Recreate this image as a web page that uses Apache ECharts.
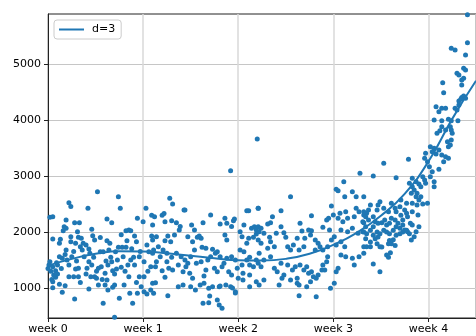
<!DOCTYPE html>
<html>
<head>
<meta charset="utf-8">
<script src="https://cdn.jsdelivr.net/npm/echarts@6/dist/echarts.min.js"></script>
<style>
  html, body { margin: 0; padding: 0; background: #fff; }
  #chart { width: 476px; height: 336px; }
</style>
</head>
<body>
<div id="chart"></div>
<script>
const weekLabels = ["week 0", "week 1", "week 2", "week 3", "week 4"];
const yTicks = [1000, 2000, 3000, 4000, 5000];

// scatter, week 0 - 1.1
const pointsWeek0 = [
  [0.02,2262],[0.05,2274],[0.22,2524],[0.24,2453],[0.52,2720],[0.74,2631],[0.76,2423],[0.42,2423],[1.03,2423],[0.94,2244],
  [1.00,2185],[0.62,2232],[0.67,2167],[0.28,2167],[0.33,2167],[0.19,2214],[0.17,2095],[0.19,2066],[0.16,2024],[0.05,1875],
  [0.13,1869],[0.24,1917],[0.24,1827],[0.31,2006],[0.32,1905],[0.29,1798],[0.35,1887],[0.37,1798],[0.34,1738],[0.40,1768],
  [0.43,1697],[0.46,2048],[0.47,1935],[0.49,1857],[0.62,1845],[0.65,1798],[0.55,1649],[0.58,1649],[0.71,1649],[0.74,1726],
  [0.78,1726],[0.82,1726],[0.82,2024],[0.85,2036],[0.87,2024],[0.83,1845],[0.91,1929],[0.93,1827],[1.10,2125],[1.10,1857],
  [1.04,1768],[1.06,1649],[1.10,1619],[0.02,1470],[0.01,1411],[0.05,1381],[0.08,1310],[0.10,1250],[0.08,1190],[0.05,1113],
  [0.12,1065],[0.18,1042],[0.15,1530],[0.20,1500],[0.22,1411],[0.25,1560],[0.29,1339],[0.32,1351],[0.22,1202],[0.27,1202],
  [0.32,1202],[0.43,1470],[0.41,1351],[0.46,1411],[0.45,1202],[0.53,1351],[0.56,1381],[0.49,1202],[0.51,1173],[0.53,1054],
  [0.62,1143],[0.60,1054],[0.70,1054],[0.63,964],[0.68,1012],[0.43,982],[0.28,804],[0.58,726],[0.75,815],[0.89,726],
  [0.80,1054],[0.86,905],[0.94,905],[0.98,1024],[1.01,935],[1.04,893],[1.08,964],[1.10,1083],[1.08,1381],[1.01,1202],
  [0.96,1202],[0.91,1411],[0.84,1411],[0.77,1369],[0.72,1339],[0.67,1470],[0.68,1310],[0.63,1411],[0.60,1262],[0.70,476],
  [0.15,923],[0.12,1560],[0.36,1679],[0.19,1679],[0.79,1560],[0.87,1500],[0.96,1560],[1.01,1470],[0.12,1798],[0.10,1411],
  [0.03,1300],[0.06,1230],[0.09,1450],[0.14,1350],[0.18,1600],[0.27,1650],[0.30,1480],[0.38,1560],[0.40,1250],[0.48,1550],
  [0.51,1300],[0.57,1150],[0.61,1480],[0.66,1550],[0.70,1250],[0.73,1500],[0.81,1300],[0.85,1200],[0.90,1550],[0.93,1100],
  [0.97,1650],[1.05,1300],[0.00,1350],[0.04,1150],[0.34,1100],[0.55,1900],[0.77,1950],[0.44,1620],[0.64,1680],[0.88,1700],
  [0.05,1005]
];

// scatter, week 1.1 - 2.2
const pointsWeek1 = [
  [1.92,3095],[1.28,2601],[1.31,2500],[1.43,2393],[1.44,2393],[1.71,2304],[1.09,2300],[1.12,2274],[1.20,2300],[1.22,2330],
  [1.23,2185],[1.30,2200],[1.35,2167],[1.39,2100],[1.38,2036],[1.51,2125],[1.63,2167],[1.81,2143],[1.95,2200],[1.96,2230],
  [1.93,2100],[2.06,2125],[2.09,2381],[2.11,2381],[2.21,2423],[2.14,2066],[2.17,2095],[2.19,2036],[1.09,1930],[1.14,1917],
  [1.26,1930],[1.33,1947],[1.29,1827],[1.23,1845],[1.47,1917],[1.52,1827],[1.57,1905],[1.61,1887],[1.62,1726],[1.66,1708],
  [1.73,1690],[1.78,1649],[1.86,1947],[1.88,1857],[2.02,2006],[2.04,1917],[2.11,1887],[2.16,1905],[2.19,1964],[2.02,1679],
  [2.06,1649],[2.12,1548],[2.19,1500],[1.11,1679],[1.16,1738],[1.21,1679],[1.25,1619],[1.18,1560],[1.14,1470],[1.25,1470],
  [1.30,1548],[1.35,1619],[1.40,1560],[1.44,1500],[1.47,1440],[1.50,1560],[1.54,1679],[1.56,1440],[1.61,1470],[1.68,1500],
  [1.71,1560],[1.76,1619],[1.81,1560],[1.85,1440],[1.88,1530],[1.93,1560],[1.97,1500],[1.99,1351],[2.04,1411],[2.09,1500],
  [2.12,1411],[2.16,1381],[2.21,1440],[1.13,1381],[1.20,1310],[1.27,1351],[1.23,1190],[1.31,1321],[1.37,1411],[1.42,1292],
  [1.45,1381],[1.49,1262],[1.52,1173],[1.64,1214],[1.66,1321],[1.75,1351],[1.78,1292],[1.83,1381],[1.90,1292],[1.93,1232],
  [2.00,1173],[2.05,1262],[2.12,1232],[2.19,1113],[1.13,1095],[1.26,863],[1.37,1024],[1.42,1054],[1.50,1024],[1.55,964],
  [1.60,1054],[1.64,1083],[1.69,994],[1.73,1024],[1.81,1036],[1.87,1054],[1.92,1024],[1.97,935],[1.63,726],[1.69,738],
  [1.78,786],[1.80,696],[1.83,637],[1.70,857],[1.80,1024],[1.11,905],[2.05,1143],[2.12,1024],[2.09,1798],[1.54,2036],
  [1.59,1929],[1.86,2244],[1.88,2155],[1.94,1000],[1.97,911],[2.20,3661]
];

// scatter, week 2.2 - 3.3
const pointsWeek2 = [
  [3.28,3048],[2.55,2631],[3.11,2899],[3.03,2762],[3.05,2738],[3.20,2720],[3.24,2631],[3.12,2631],[3.32,2631],[2.45,2381],
  [2.77,2292],[2.98,2464],[2.36,2274],[2.34,2167],[2.31,2143],[2.21,2423],[2.45,2095],[2.40,1976],[2.65,2155],[2.67,2018],
  [2.74,2036],[2.77,2024],[2.93,2214],[2.95,2244],[3.00,2304],[3.07,2334],[3.13,2363],[3.24,2423],[3.27,2363],[3.05,2244],
  [3.10,2185],[3.15,2244],[3.22,2274],[3.31,2185],[3.32,2304],[2.89,2083],[2.96,2036],[3.08,2036],[3.15,2006],[3.20,2066],
  [3.26,1976],[3.31,2006],[2.22,2006],[2.27,1976],[2.21,1857],[2.24,1798],[2.33,1905],[2.34,1827],[2.38,1738],[2.31,1708],
  [2.48,1988],[2.50,1905],[2.52,1738],[2.55,1679],[2.62,1887],[2.58,1768],[2.64,1679],[2.69,1738],[2.70,1887],[2.76,1947],
  [2.81,1857],[2.84,1798],[2.81,1679],[2.86,1738],[2.89,1679],[2.94,1738],[2.98,1857],[3.01,1917],[3.03,1768],[3.08,1827],
  [3.12,1738],[3.08,1589],[3.13,1560],[3.20,1530],[3.27,1560],[3.32,1619],[3.22,1411],[3.05,1351],[3.03,1292],[2.94,1560],
  [2.93,1470],[2.89,1411],[2.22,1619],[2.27,1500],[2.24,1381],[2.34,1560],[2.38,1351],[2.41,1292],[2.45,1440],[2.48,1232],
  [2.52,1411],[2.57,1321],[2.60,1381],[2.62,1173],[2.65,1411],[2.69,1321],[2.72,1381],[2.74,1262],[2.77,1292],[2.79,1202],
  [2.82,1173],[2.84,1232],[2.88,1321],[2.91,1321],[2.27,1143],[2.22,1054],[2.43,1054],[2.46,1173],[2.55,1143],[2.62,1083],
  [2.64,1054],[2.72,1024],[2.76,1113],[2.64,863],[2.82,845],[2.97,994],[3.01,1083],[2.21,2095],[2.24,2066]
];

// scatter, week 3.3 - 4.4
const pointsWeek3 = [
  [4.41,5880],[4.41,5381],[4.24,5280],[4.28,5250],[4.39,5161],[4.37,4923],[4.39,4893],[4.30,4834],[4.32,4804],[4.35,4715],
  [4.37,4744],[4.15,4667],[4.16,4488],[4.35,4625],[4.35,4400],[4.37,4430],[4.32,4340],[4.34,4370],[4.39,4390],[4.08,4238],
  [4.14,4209],[4.11,4149],[4.18,4209],[4.28,4209],[4.30,4179],[4.32,4268],[4.06,4000],[4.14,3988],[4.21,4012],[4.24,3988],
  [4.31,3988],[4.14,3881],[4.18,3822],[4.23,3881],[4.24,3822],[4.09,3762],[4.12,3810],[4.25,3762],[4.24,3643],[4.20,3613],
  [4.23,3554],[4.21,3524],[4.02,3524],[4.06,3494],[4.04,3435],[4.08,3393],[4.11,3464],[4.14,3375],[4.18,3345],[4.21,3315],
  [4.16,3256],[3.97,3405],[3.96,3316],[3.99,3256],[4.11,3119],[4.01,3167],[4.04,3077],[4.02,2988],[4.06,2899],[4.06,2810],
  [3.94,2988],[3.96,2929],[3.97,2870],[3.92,2810],[3.99,2512],[3.79,3298],[3.53,3226],[3.42,3000],[3.66,2970],[3.83,2958],
  [3.87,2899],[3.90,2857],[3.80,2870],[3.83,2810],[3.85,2750],[3.88,2690],[3.92,2631],[3.90,2571],[3.82,2690],[3.87,2631],
  [3.83,2512],[3.88,2482],[3.94,2500],[3.77,2512],[3.71,2571],[3.70,2452],[3.75,2393],[3.83,2363],[3.89,2304],[3.66,2363],
  [3.71,2300],[3.77,2333],[3.78,2274],[3.73,2214],[3.68,2155],[3.61,2512],[3.65,2423],[3.58,2363],[3.53,2423],[3.49,2541],
  [3.47,2482],[3.46,2393],[3.39,2482],[3.37,2393],[3.35,2333],[3.32,2363],[3.34,2274],[3.37,2214],[3.42,2274],[3.44,2185],
  [3.42,2095],[3.47,2155],[3.51,2167],[3.54,2214],[3.56,2125],[3.59,2155],[3.61,2244],[3.65,2214],[3.66,2095],[3.70,2066],
  [3.73,2125],[3.75,2036],[3.78,2006],[3.81,2155],[3.83,2125],[3.87,2006],[3.82,1857],[3.85,1917],[3.90,2095],[3.32,2000],
  [3.35,1970],[3.39,2030],[3.42,1940],[3.46,2000],[3.49,1970],[3.53,2030],[3.56,2000],[3.59,1970],[3.63,2030],[3.66,1940],
  [3.70,1970],[3.73,2000],[3.77,2030],[3.80,1970],[3.34,1880],[3.39,1820],[3.44,1880],[3.47,1910],[3.46,1790],[3.51,1730],
  [3.58,1790],[3.63,1860],[3.65,1760],[3.32,1738],[3.35,1738],[3.39,1738],[3.49,1738],[3.59,1850],[3.61,1790],[3.56,1589],
  [3.58,1548],[3.60,1631],[3.42,1429],[3.49,1292],[3.32,2167],[3.34,2095]
];

// degree 3 fit
const fitWeeks  = [0, 0.25, 0.5, 0.75, 1, 1.25, 1.5, 1.75, 2, 2.25, 2.5, 2.75, 3, 3.25, 3.5, 3.75, 4, 4.25, 4.5];
const fitValues = [1400, 1520, 1610, 1655, 1650, 1620, 1575, 1530, 1495, 1490, 1520, 1610, 1770, 1990, 2290, 2680, 3260, 4020, 4700];

const chart = echarts.init(document.getElementById("chart"), null, { renderer: "canvas" });

const scatterData = pointsWeek0.concat(pointsWeek1, pointsWeek2, pointsWeek3);
const fitData = fitWeeks.map((w, i) => [w, fitValues[i]]);

const option = {
  animation: false,
  backgroundColor: "#ffffff",
  textStyle: { fontFamily: "DejaVu Sans" },
  grid: {
    left: 48,
    top: 14,
    bottom: 18,
    right: -8.5,
    show: true,
    borderColor: "#222",
    borderWidth: 1,
    containLabel: false
  },
  legend: {
    data: ["d=3"],
    left: 54,
    top: 20,
    padding: [4, 6, 4, 4],
    itemWidth: 25,
    itemHeight: 11,
    borderColor: "#cccccc",
    borderWidth: 1,
    borderRadius: 3,
    backgroundColor: "rgba(255,255,255,0.85)",
    itemStyle: { opacity: 0 },
    lineStyle: { width: 2 },
    textStyle: { fontSize: 11, color: "#000", fontFamily: "DejaVu Sans", padding: [0, 0, 0, 3] }
  },
  xAxis: {
    type: "value",
    min: 0,
    max: 4.5,
    interval: 1,
    axisLine: { show: true, lineStyle: { color: "#222", width: 1 } },
    axisTick: { show: true, length: 4, lineStyle: { color: "#222" } },
    axisLabel: {
      fontSize: 11,
      color: "#000",
      margin: 6,
      showMaxLabel: false,
      formatter: (v) => weekLabels[Math.round(v)] || ""
    },
    splitLine: { show: true, lineStyle: { color: "#d9d9d9", width: 1.5 } }
  },
  yAxis: {
    type: "value",
    min: 464,
    max: 5893,
    interval: 1000,
    axisLine: { show: true, lineStyle: { color: "#222", width: 1 } },
    axisTick: { show: true, length: 4, lineStyle: { color: "#222" }, customValues: yTicks },
    axisLabel: {
      fontSize: 11,
      color: "#000",
      margin: 7,
      customValues: yTicks,
      formatter: (v) => String(v)
    },
    splitLine: { show: true, lineStyle: { color: "#c6c6c6", width: 1 } }
  },
  series: [
    {
      type: "scatter",
      data: scatterData,
      symbolSize: 5,
      itemStyle: { color: "#1f77b4", opacity: 1 },
      z: 2
    },
    {
      name: "d=3",
      type: "line",
      data: fitData,
      smooth: true,
      symbol: "none",
      lineStyle: { color: "#1f77b4", width: 2 },
      itemStyle: { color: "#1f77b4" },
      z: 3
    }
  ]
};

chart.setOption(option);
</script>
</body>
</html>
